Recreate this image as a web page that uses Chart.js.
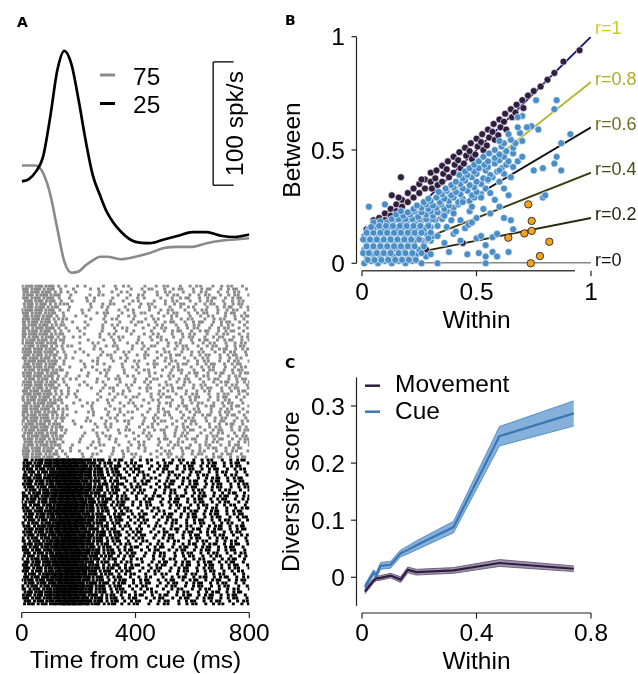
<!DOCTYPE html>
<html>
<head>
<meta charset="utf-8">
<title>Cue and movement diversity</title>
<script src="https://cdn.jsdelivr.net/npm/chart.js@4.4.1/dist/chart.umd.min.js"></script>
<style>
  html, body { margin: 0; padding: 0; background: #fff; }
  #fig { position: relative; width: 638px; height: 674px; }
  #fig canvas { position: absolute; left: 0; top: 0; }
</style>
</head>
<body>
<div id="fig">
  <canvas id="psth" width="638" height="674"></canvas>
  <canvas id="raster" width="638" height="674"></canvas>
  <canvas id="scatter" width="638" height="674"></canvas>
  <canvas id="diversity" width="638" height="674"></canvas>
</div>
<script>
// ---- A: firing rate (spk/s) after the cue, two groups ----
const psthTime = [0, 25, 50, 75, 100, 125, 150, 175, 200, 225, 250, 275, 300, 350, 400, 450, 500, 550, 600, 650, 700, 750, 800];
const rate75 = [101, 101, 101, 95, 78, 50, 23, 14, 15, 20, 24, 27, 27, 25, 27, 30, 34, 35, 35, 38, 40, 41, 42];
const rate25 = [88, 90, 96, 108, 140, 178, 194, 183, 154, 121, 93, 77, 63, 47, 39, 38, 41, 44, 47, 47, 44, 43, 45];
const groupNames = ['75', '25'];
const groupTrials = [58, 49];
const timeTicks = [0, 400, 800];

// ---- B: within vs between, one point per neuron ----
const movementPts = [
  [0.05,0.19],[0.05,0.16],[0.075,0.20],[0.075,0.17],[0.10,0.22],[0.10,0.19],[0.125,0.24],[0.125,0.21],
  [0.15,0.26],[0.15,0.23],[0.175,0.28],[0.175,0.25],[0.20,0.31],[0.20,0.27],[0.225,0.33],[0.225,0.29],
  [0.25,0.35],[0.25,0.31],[0.275,0.37],[0.275,0.33],[0.30,0.40],[0.30,0.36],[0.305,0.33],
  [0.325,0.41],[0.32,0.375],[0.33,0.345],[0.35,0.43],[0.355,0.395],[0.35,0.36],
  [0.375,0.45],[0.37,0.415],[0.38,0.38],[0.40,0.47],[0.405,0.435],[0.40,0.40],
  [0.425,0.49],[0.42,0.455],[0.43,0.42],[0.45,0.51],[0.455,0.475],[0.445,0.44],
  [0.475,0.53],[0.47,0.495],[0.48,0.46],[0.50,0.55],[0.505,0.515],[0.495,0.48],
  [0.525,0.57],[0.52,0.535],[0.53,0.50],[0.55,0.59],[0.555,0.555],[0.545,0.52],
  [0.575,0.615],[0.57,0.58],[0.58,0.545],[0.60,0.635],[0.605,0.60],[0.595,0.565],
  [0.625,0.66],[0.62,0.625],[0.63,0.59],[0.65,0.68],[0.655,0.645],[0.675,0.70],[0.67,0.665],
  [0.70,0.72],[0.705,0.685],[0.725,0.74],[0.75,0.76],[0.78,0.78],[0.81,0.81],[0.84,0.84],[0.88,0.89],[0.95,0.94],
  [0.17,0.38],[0.13,0.30],[0.28,0.06],[0.44,0.09],[0.23,0.03],[0.02,0.15],[0.16,0.29],[0.26,0.37]
];
const cuePts = [
  // dense core near the origin
  [0.01,0.00],[0.04,0.01],[0.07,0.00],[0.10,0.01],[0.13,0.00],[0.16,0.01],[0.19,0.00],[0.22,0.01],[0.26,0.00],
  [0.02,0.03],[0.05,0.04],[0.08,0.03],[0.11,0.04],[0.14,0.03],[0.17,0.04],[0.20,0.03],[0.24,0.04],[0.28,0.03],
  [0.01,0.06],[0.035,0.07],[0.065,0.06],[0.095,0.07],[0.125,0.06],[0.155,0.07],[0.185,0.06],[0.215,0.07],[0.25,0.06],
  [0.02,0.09],[0.05,0.10],[0.08,0.09],[0.11,0.10],[0.14,0.09],[0.17,0.10],[0.20,0.09],[0.23,0.10],[0.27,0.09],[0.30,0.10],
  [0.01,0.12],[0.035,0.13],[0.065,0.12],[0.095,0.13],[0.125,0.12],[0.155,0.13],[0.185,0.12],[0.215,0.13],[0.245,0.12],[0.28,0.13],[0.31,0.12],
  [0.03,0.15],[0.06,0.16],[0.09,0.15],[0.12,0.16],[0.15,0.15],[0.18,0.16],[0.21,0.15],[0.24,0.16],[0.27,0.15],[0.30,0.16],
  [0.05,0.18],[0.08,0.185],[0.11,0.18],[0.14,0.19],[0.17,0.18],[0.20,0.19],[0.23,0.18],[0.26,0.19],[0.29,0.18],[0.32,0.19],
  [0.025,0.015],[0.055,0.015],[0.085,0.015],[0.115,0.015],[0.145,0.015],[0.175,0.015],[0.205,0.015],[0.235,0.015],
  [0.005,0.045],[0.03,0.045],[0.065,0.045],[0.095,0.045],[0.125,0.045],[0.16,0.045],[0.19,0.045],[0.22,0.045],[0.26,0.045],
  [0.02,0.075],[0.05,0.075],[0.08,0.075],[0.11,0.075],[0.14,0.075],[0.17,0.075],[0.20,0.075],[0.23,0.075],[0.27,0.075],
  [0.005,0.105],[0.035,0.105],[0.065,0.105],[0.095,0.105],[0.125,0.105],[0.155,0.105],[0.185,0.105],[0.215,0.105],[0.25,0.105],[0.285,0.105],
  [0.02,0.135],[0.05,0.135],[0.08,0.135],[0.11,0.135],[0.14,0.135],[0.17,0.135],[0.20,0.135],[0.23,0.135],[0.26,0.135],[0.30,0.135],
  [0.04,0.16],[0.075,0.165],[0.105,0.165],[0.135,0.165],[0.165,0.165],[0.195,0.165],[0.225,0.165],[0.255,0.165],[0.29,0.165],[0.33,0.165],
  [0.13,0.195],[0.16,0.195],[0.19,0.195],[0.22,0.195],[0.25,0.195],[0.28,0.195],[0.31,0.195],[0.35,0.195],
  // band below the movement points
  [0.15,0.215],[0.18,0.21],[0.21,0.215],[0.245,0.205],[0.28,0.215],[0.31,0.21],[0.35,0.215],
  [0.17,0.23],[0.20,0.225],[0.23,0.23],[0.26,0.225],[0.30,0.23],[0.33,0.225],[0.37,0.23],
  [0.225,0.24],[0.26,0.245],[0.29,0.24],[0.325,0.245],[0.36,0.24],[0.40,0.245],
  [0.24,0.255],[0.28,0.26],[0.31,0.255],[0.345,0.26],[0.38,0.255],[0.42,0.26],
  [0.27,0.27],[0.30,0.275],[0.34,0.27],[0.38,0.275],[0.42,0.27],[0.47,0.275],
  [0.29,0.285],[0.325,0.29],[0.36,0.285],[0.40,0.29],[0.44,0.285],[0.49,0.29],
  [0.35,0.305],[0.39,0.30],[0.43,0.305],[0.48,0.30],[0.52,0.305],
  [0.335,0.315],[0.37,0.32],[0.41,0.315],[0.46,0.32],[0.50,0.315],
  [0.365,0.33],[0.40,0.335],[0.44,0.33],[0.49,0.335],[0.54,0.33],
  [0.39,0.345],[0.43,0.35],[0.47,0.345],[0.52,0.35],
  [0.41,0.36],[0.45,0.365],[0.50,0.36],[0.55,0.365],[0.60,0.36],
  [0.44,0.375],[0.48,0.38],[0.53,0.375],[0.57,0.38],
  [0.425,0.39],[0.46,0.39],[0.50,0.395],[0.56,0.39],[0.62,0.395],
  [0.45,0.405],[0.49,0.405],[0.54,0.41],[0.59,0.405],
  [0.47,0.42],[0.51,0.42],[0.55,0.425],[0.61,0.42],[0.66,0.425],
  [0.49,0.435],[0.535,0.435],[0.58,0.44],[0.63,0.435],
  [0.51,0.45],[0.55,0.45],[0.60,0.455],[0.64,0.45],
  [0.53,0.47],[0.58,0.465],[0.62,0.47],
  [0.555,0.485],[0.60,0.48],[0.66,0.485],
  [0.58,0.50],[0.63,0.495],
  [0.61,0.515],[0.66,0.51],
  [0.62,0.53],[0.67,0.53],
  [0.60,0.54],[0.65,0.545],[0.70,0.54],
  [0.64,0.57],[0.69,0.575],[0.68,0.60],[0.74,0.605],[0.70,0.65],[0.68,0.645],
  // sparse neurons away from the diagonal
  [0.76,0.72],[0.85,0.72],[0.84,0.68],[0.72,0.60],[0.77,0.59],[0.91,0.57],[0.87,0.53],[0.85,0.47],
  [0.84,0.44],[0.87,0.41],[0.79,0.42],[0.75,0.41],[0.79,0.29],[0.80,0.30],[0.03,0.25],[0.10,0.26],
  [0.33,0.00],[0.30,0.04],[0.38,0.05],[0.29,0.11],[0.33,0.12],[0.37,0.16],[0.40,0.13],[0.41,0.14],
  [0.45,0.155],[0.465,0.17],[0.47,0.23],[0.43,0.19],[0.50,0.11],[0.52,0.12],[0.57,0.115],[0.57,0.05],
  [0.54,0.03],[0.51,0.045],[0.46,0.04],[0.54,0.00],[0.59,0.03],[0.62,0.20],[0.65,0.19],[0.66,0.15],
  [0.59,0.13],[0.54,0.08],[0.52,0.29],[0.53,0.24],[0.60,0.25],[0.56,0.31],[0.62,0.33],[0.55,0.37],
  [0.60,0.41],[0.65,0.38],[0.68,0.45],[0.70,0.47],[0.36,0.21],[0.40,0.22],[0.44,0.27],[0.48,0.18],
  [0.56,0.22],[0.58,0.28],[0.64,0.30],[0.36,0.09],[0.43,0.10],[0.39,0.19],[0.50,0.20],[0.48,0.25],[0.64,0.05]
];
const highlightPts = [[0.726,0.26],[0.741,0.187],[0.741,0.143],[0.709,0.132],[0.639,0.113],[0.818,0.095],[0.777,0.032],[0.737,0.0]];
const rValues = [1, 0.8, 0.6, 0.4, 0.2, 0];
const rLineColors = ['#16167a', '#b6b62c', '#111111', '#3b3b12', '#26260e', '#111111'];
const rTextColors = ['#cccc26', '#acac2e', '#6e6e1e', '#4a4a18', '#262612', '#111111'];
const scatterTicks = [0, 0.5, 1];

// ---- C: diversity score vs within ----
const withinBins = [0.01, 0.04, 0.05, 0.065, 0.1, 0.135, 0.16, 0.19, 0.32, 0.48, 0.74];
const movementScore = [-0.025, -0.006, -0.002, -0.001, 0.003, -0.004, 0.013, 0.009, 0.012, 0.025, 0.015];
const movementErr = [0.004, 0.004, 0.004, 0.004, 0.004, 0.005, 0.005, 0.005, 0.005, 0.006, 0.005];
const cueScore = [-0.017, 0.008, 0.004, 0.020, 0.022, 0.042, 0.048, 0.056, 0.088, 0.247, 0.287];
const cueErr = [0.004, 0.005, 0.005, 0.006, 0.006, 0.006, 0.007, 0.008, 0.010, 0.017, 0.022];
const diversityXTicks = [0, 0.4, 0.8];
const diversityYTicks = [0, 0.1, 0.2, 0.3];

const FONT = '"Liberation Sans", Arial, sans-serif';
const BIG = '24.5px ' + FONT;
const LETTER = 'bold 14px "DejaVu Sans", sans-serif';
const AXIS = '#222';
const GRAY = '#8a8a8a';
const CUE = '#4a8ec8';
const MOVE = '#2f1e40';

// every chart covers the whole page; padding places its plot box
function pageOptions(box, xr, yr, extra) {
  return Object.assign({
    responsive: false,
    animation: false,
    devicePixelRatio: 1,
    layout: { padding: { left: box[0], top: box[1], right: 638 - box[2], bottom: 674 - box[3] } },
    plugins: { legend: { display: false }, tooltip: { enabled: false } },
    scales: {
      x: Object.assign({ type: 'linear', display: false }, xr),
      y: Object.assign({ type: 'linear', display: false }, yr)
    }
  }, extra || {});
}

function text(ctx, s, x, y, o) {
  o = o || {};
  ctx.save();
  ctx.font = o.font || BIG;
  ctx.fillStyle = o.color || '#000';
  ctx.textAlign = o.align || 'center';
  ctx.textBaseline = 'alphabetic';
  ctx.translate(x, y);
  if (o.rot) ctx.rotate(o.rot);
  ctx.fillText(s, 0, 0);
  ctx.restore();
}

function seg(ctx, x0, y0, x1, y1, color, w) {
  ctx.save();
  ctx.strokeStyle = color || AXIS;
  ctx.lineWidth = w || 1.2;
  ctx.beginPath();
  ctx.moveTo(x0, y0);
  ctx.lineTo(x1, y1);
  ctx.stroke();
  ctx.restore();
}

function xy(xs, ys) { return xs.map((v, i) => ({ x: v, y: ys[i] })); }

// ---------- A top: rate curves ----------
new Chart(document.getElementById('psth'), {
  type: 'line',
  data: {
    datasets: [
      { data: xy(psthTime, rate25), borderColor: '#000', borderWidth: 2.7, pointRadius: 0, cubicInterpolationMode: 'monotone' },
      { data: xy(psthTime, rate75), borderColor: GRAY, borderWidth: 2.6, pointRadius: 0, cubicInterpolationMode: 'monotone' }
    ]
  },
  options: pageOptions([21.7, 43.4, 249.3, 290], { min: 0, max: 800 }, { min: 0, max: 200 }),
  plugins: [{
    id: 'psthDecor',
    afterDraw(chart) {
      const { ctx, scales: { x, y } } = chart;
      text(ctx, 'A', 17, 27, { font: LETTER, align: 'left' });
      // legend
      seg(ctx, 100, 75, 115, 75, GRAY, 3);
      seg(ctx, 100, 103.5, 115, 103.5, '#000', 3);
      text(ctx, groupNames[0], 133, 85, { align: 'left' });
      text(ctx, groupNames[1], 133, 113, { align: 'left' });
      // 100 spk/s scale bar
      const bx = x.getPixelForValue(673), bx2 = x.getPixelForValue(745);
      const b0 = y.getPixelForValue(85), b1 = y.getPixelForValue(185);
      seg(ctx, bx, b0, bx, b1, '#000', 1.3);
      seg(ctx, bx, b0, bx2, b0, '#000', 1.3);
      seg(ctx, bx, b1, bx2, b1, '#000', 1.3);
      text(ctx, '100 spk/s', 242.5, (b0 + b1) / 2, { rot: -Math.PI / 2 });
    }
  }]
});

// ---------- A bottom: spike raster built from the rate curves ----------
function rateAt(rates, t) {
  let i = 0;
  while (i < psthTime.length - 1 && psthTime[i + 1] <= t) i++;
  return rates[i];
}
// integrate-and-fire on the group rate; thresholds step along a
// golden-ratio sequence so inter-spike intervals are uneven
function rasterRows(rates, nTrials, firstRow) {
  const spikes = [];
  let n = firstRow * 7;
  for (let k = 0; k < nTrials; k++) {
    let acc = (k * 0.6180339887) % 1;
    let need = 0.3 + 1.4 * ((n * 0.7548776662) % 1);
    for (let t = 0; t <= 800; t++) {
      acc += rateAt(rates, t) / 1000;
      if (acc >= need) {
        acc -= need;
        spikes.push({ x: t, y: firstRow + k + 0.5 });
        n++;
        need = 0.3 + 1.4 * ((n * 0.7548776662) % 1);
      }
    }
  }
  return spikes;
}
const totalTrials = groupTrials[0] + groupTrials[1];

new Chart(document.getElementById('raster'), {
  type: 'scatter',
  data: {
    datasets: [
      { data: rasterRows(rate75, groupTrials[0], 0), pointStyle: 'rect', pointRadius: 2.1, borderWidth: 0, backgroundColor: GRAY },
      { data: rasterRows(rate25, groupTrials[1], groupTrials[0]), pointStyle: 'rect', pointRadius: 2.1, borderWidth: 0, backgroundColor: '#000' }
    ]
  },
  options: pageOptions([21.7, 284.5, 249.3, 605.5], { min: 0, max: 800 }, { min: 0, max: totalTrials, reverse: true }),
  plugins: [{
    id: 'rasterAxis',
    afterDraw(chart) {
      const { ctx, scales: { x } } = chart;
      const ay = 612.5;
      seg(ctx, x.getPixelForValue(0), ay, x.getPixelForValue(800), ay);
      timeTicks.forEach(t => {
        const px = x.getPixelForValue(t);
        seg(ctx, px, ay, px, ay + 5.5);
        text(ctx, String(t), px, 641);
      });
      text(ctx, 'Time from cue (ms)', (x.left + x.right) / 2, 668);
    }
  }]
});

// ---------- B: within vs between ----------
const rLines = rValues.map((r, i) => ({
  type: 'line',
  data: [{ x: 0, y: 0 }, { x: 1, y: r }],
  borderColor: rLineColors[i],
  borderWidth: 1.8,
  pointRadius: 0,
  showLine: true,
  order: 5
}));

new Chart(document.getElementById('scatter'), {
  type: 'scatter',
  data: {
    datasets: [
      { data: highlightPts.map(p => ({ x: p[0], y: p[1] })), backgroundColor: '#f5a31c', borderColor: '#2a2a2a', borderWidth: 0.9, pointRadius: 3.7, order: 0, clip: false },
      { data: cuePts.map(p => ({ x: p[0], y: p[1] })), backgroundColor: CUE, borderColor: '#fff', borderWidth: 0.6, pointRadius: 3.5, order: 1, clip: false },
      { data: movementPts.map(p => ({ x: p[0], y: p[1] })), backgroundColor: MOVE, borderColor: '#fff', borderWidth: 0.6, pointRadius: 3.5, order: 2, clip: false }
    ].concat(rLines)
  },
  options: pageOptions([362, 36.7, 591, 263.3], { min: 0, max: 1 }, { min: 0, max: 1 }),
  plugins: [{
    id: 'scatterAxes',
    afterDraw(chart) {
      const { ctx, scales: { x, y } } = chart;
      text(ctx, 'B', 285, 25, { font: LETTER, align: 'left' });
      const sx = x.getPixelForValue(0) - 5.5;
      const sy = y.getPixelForValue(0) + 7.4;
      seg(ctx, sx, y.getPixelForValue(0), sx, y.getPixelForValue(1));
      seg(ctx, x.getPixelForValue(0), sy, x.getPixelForValue(0.93), sy, '#444', 1.4);
      scatterTicks.forEach(v => {
        const py = y.getPixelForValue(v), px = x.getPixelForValue(v);
        seg(ctx, sx - 5, py, sx, py);
        text(ctx, String(v), 345, py + 8.5, { align: 'right' });
        seg(ctx, px, sy, px, sy + 5.5);
        text(ctx, String(v), px, 300);
      });
      text(ctx, 'Within', (x.left + x.right) / 2, 328);
      text(ctx, 'Between', 300, (y.top + y.bottom) / 2, { rot: -Math.PI / 2 });
      rValues.forEach((r, i) => {
        const py = y.getPixelForValue(r) - (r === 1 ? 9 : 4);
        text(ctx, 'r=' + r, x.getPixelForValue(1) + 4, py + 6.5, { font: '18px ' + FONT, align: 'left', color: rTextColors[i] });
      });
    }
  }]
});

// ---------- C: diversity score ----------
function bandEdge(ys, err, sign) { return withinBins.map((v, i) => ({ x: v, y: ys[i] + sign * err[i] })); }

new Chart(document.getElementById('diversity'), {
  type: 'line',
  data: {
    datasets: [
      { data: xy(withinBins, movementScore), borderColor: MOVE, borderWidth: 2.2, pointRadius: 0, order: 0 },
      { data: xy(withinBins, cueScore), borderColor: '#3b78b3', borderWidth: 2.2, pointRadius: 0, order: 0 },
      { data: bandEdge(cueScore, cueErr, 1), borderColor: '#4382c0', borderWidth: 0.8, pointRadius: 0, fill: false, order: 2 },
      { data: bandEdge(cueScore, cueErr, -1), borderColor: '#4382c0', borderWidth: 0.8, pointRadius: 0, fill: '-1', backgroundColor: 'rgba(84,145,204,0.72)', order: 2 },
      { data: bandEdge(movementScore, movementErr, 1), borderColor: '#5a4a6c', borderWidth: 0.8, pointRadius: 0, fill: false, order: 1 },
      { data: bandEdge(movementScore, movementErr, -1), borderColor: '#5a4a6c', borderWidth: 0.8, pointRadius: 0, fill: '-1', backgroundColor: 'rgba(96,78,118,0.6)', order: 1 }
    ]
  },
  options: pageOptions([362, 377.45, 591, 605.85], { min: 0, max: 0.8 }, { min: -0.05, max: 0.35 }),
  plugins: [{
    id: 'diversityAxes',
    afterDraw(chart) {
      const { ctx, scales: { x, y } } = chart;
      text(ctx, 'C', 285, 368, { font: LETTER, align: 'left' });
      const sx = x.getPixelForValue(0) - 5.5;
      const sy = 613;
      seg(ctx, sx, y.getPixelForValue(-0.05), sx, y.getPixelForValue(0.35));
      seg(ctx, x.getPixelForValue(0), sy, x.getPixelForValue(0.8), sy);
      diversityYTicks.forEach(v => {
        const py = y.getPixelForValue(v);
        seg(ctx, sx - 5.5, py, sx, py);
        text(ctx, String(v), 345, py + 8.5, { align: 'right' });
      });
      diversityXTicks.forEach(v => {
        const px = x.getPixelForValue(v);
        seg(ctx, px, sy, px, sy + 5.5);
        text(ctx, String(v), px, 641);
      });
      text(ctx, 'Within', (x.left + x.right) / 2, 669);
      text(ctx, 'Diversity score', 299, (y.top + y.bottom) / 2, { rot: -Math.PI / 2 });
      // legend
      seg(ctx, 365, 385.7, 380, 385.7, MOVE, 2.5);
      seg(ctx, 365, 411.7, 380, 411.7, '#3b78b3', 2.5);
      text(ctx, 'Movement', 395, 392, { align: 'left' });
      text(ctx, 'Cue', 395, 419, { align: 'left' });
    }
  }]
});
</script>
</body>
</html>
